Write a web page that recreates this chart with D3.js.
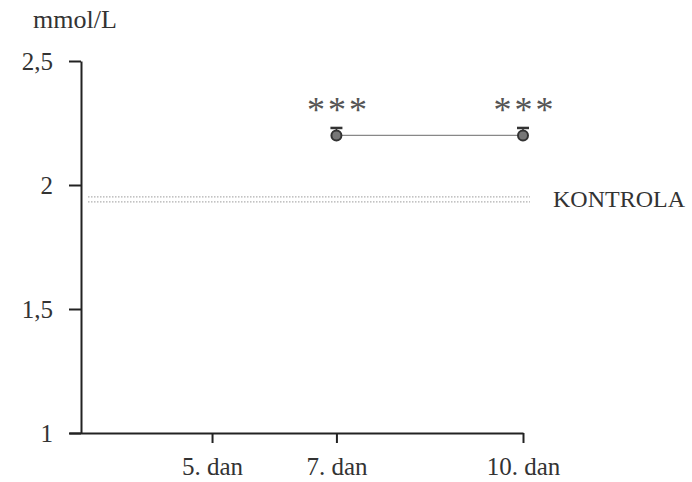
<!DOCTYPE html>
<html><head><meta charset="utf-8">
<script src="https://cdn.jsdelivr.net/npm/d3@7"></script>
<style>body{margin:0;background:#fff} svg text{font-family:'Liberation Serif' !important}</style>
</head><body><svg id="c" width="692" height="482" style="font-family:'Liberation Serif'"></svg>
<script>
const days = [7, 10];
const means = [2.2, 2.2];
const sds = [0.03, 0.03];
const xTicks = [5, 7, 10];
const xTickLabels = ["5. dan", "7. dan", "10. dan"];
const yTicks = [1, 1.5, 2, 2.5];
const yTickLabels = ["1", "1,5", "2", "2,5"];
const controlBand = [1.952, 1.932];
const controlLabel = "KONTROLA";
const sigMarks = ["***", "***"];
const unitLabel = "mmol/L";

const FONT = "'Liberation Serif'";
const svg = d3.select("#c");
const x = d3.scaleLinear().domain([2.7, 10]).range([69, 523]);
const y = d3.scaleLinear().domain([1, 2.5]).range([433, 61]);
const yAxisX = 81;

// control lines
svg.selectAll(".ctrl").data(controlBand).join("line")
  .attr("x1", 88).attr("x2", 530)
  .attr("y1", d => y(d)).attr("y2", d => y(d))
  .attr("stroke", "#b0b0b0").attr("stroke-width", 1.3).attr("stroke-dasharray", "1.5,1.5");
svg.append("text").attr("x", 553).attr("y", y(d3.mean(controlBand)) + 8)
  .style("font-family", FONT).attr("fill", "#333")
  .style("font-size", "24px").text(controlLabel);

// y axis
const yAxis = d3.axisLeft(y).tickValues(yTicks)
  .tickFormat((d, i) => yTickLabels[i]).tickSize(12).tickSizeOuter(0).tickPadding(16);
const gy = svg.append("g").attr("transform", `translate(${yAxisX},0)`).call(yAxis);
gy.attr("font-family", null).attr("font-size", null);
gy.select(".domain").attr("stroke", "#222").attr("stroke-width", 2);
gy.selectAll(".tick line").attr("stroke", "#222").attr("stroke-width", 2);
gy.selectAll(".tick text").style("font-size", "25px").style("font-family", FONT).attr("fill", "#333");

// x axis
const xAxis = d3.axisBottom(x).tickValues(xTicks)
  .tickFormat((d, i) => xTickLabels[i]).tickSize(10).tickSizeOuter(0).tickPadding(14);
const gx = svg.append("g").attr("transform", `translate(0,${y(1)})`).call(xAxis);
gx.attr("font-family", null).attr("font-size", null);
gx.select(".domain").attr("stroke", "#222").attr("stroke-width", 2);
gx.selectAll(".tick line").attr("stroke", "#222").attr("stroke-width", 2);
gx.selectAll(".tick text").style("font-size", "25px").style("font-family", FONT).attr("fill", "#333");

// unit label
svg.append("text").attr("x", 33).attr("y", 28).style("font-size", "26px")
  .style("font-family", FONT).attr("fill", "#333").text(unitLabel);

// connecting line
svg.append("path").datum(days.map((d, i) => [d, means[i]]))
  .attr("d", d3.line().x(d => x(d[0])).y(d => y(d[1])))
  .attr("fill", "none").attr("stroke", "#888").attr("stroke-width", 1.2);

// error bars (upper)
const pts = days.map((d, i) => ({d, m: means[i], s: sds[i], sig: sigMarks[i]}));
svg.selectAll(".eb").data(pts).join("line")
  .attr("x1", p => x(p.d)).attr("x2", p => x(p.d))
  .attr("y1", p => y(p.m)).attr("y2", p => y(p.m + p.s))
  .attr("stroke", "#333").attr("stroke-width", 1.5);
svg.selectAll(".cap").data(pts).join("line")
  .attr("x1", p => x(p.d) - 6).attr("x2", p => x(p.d) + 6)
  .attr("y1", p => y(p.m + p.s)).attr("y2", p => y(p.m + p.s))
  .attr("stroke", "#333").attr("stroke-width", 2.5);
svg.selectAll(".pt").data(pts).join("circle")
  .attr("cx", p => x(p.d)).attr("cy", p => y(p.m)).attr("r", 5)
  .attr("fill", "#777").attr("stroke", "#333").attr("stroke-width", 2);
svg.selectAll(".sig").data(pts).join("text")
  .attr("x", p => x(p.d) + 2).attr("y", p => y(p.m + p.s) - 6)
  .attr("text-anchor", "middle").style("font-size", "36px").style("letter-spacing", "3px")
  .style("font-family", FONT).attr("fill", "#555")
  .text(p => p.sig);
</script></body></html>
